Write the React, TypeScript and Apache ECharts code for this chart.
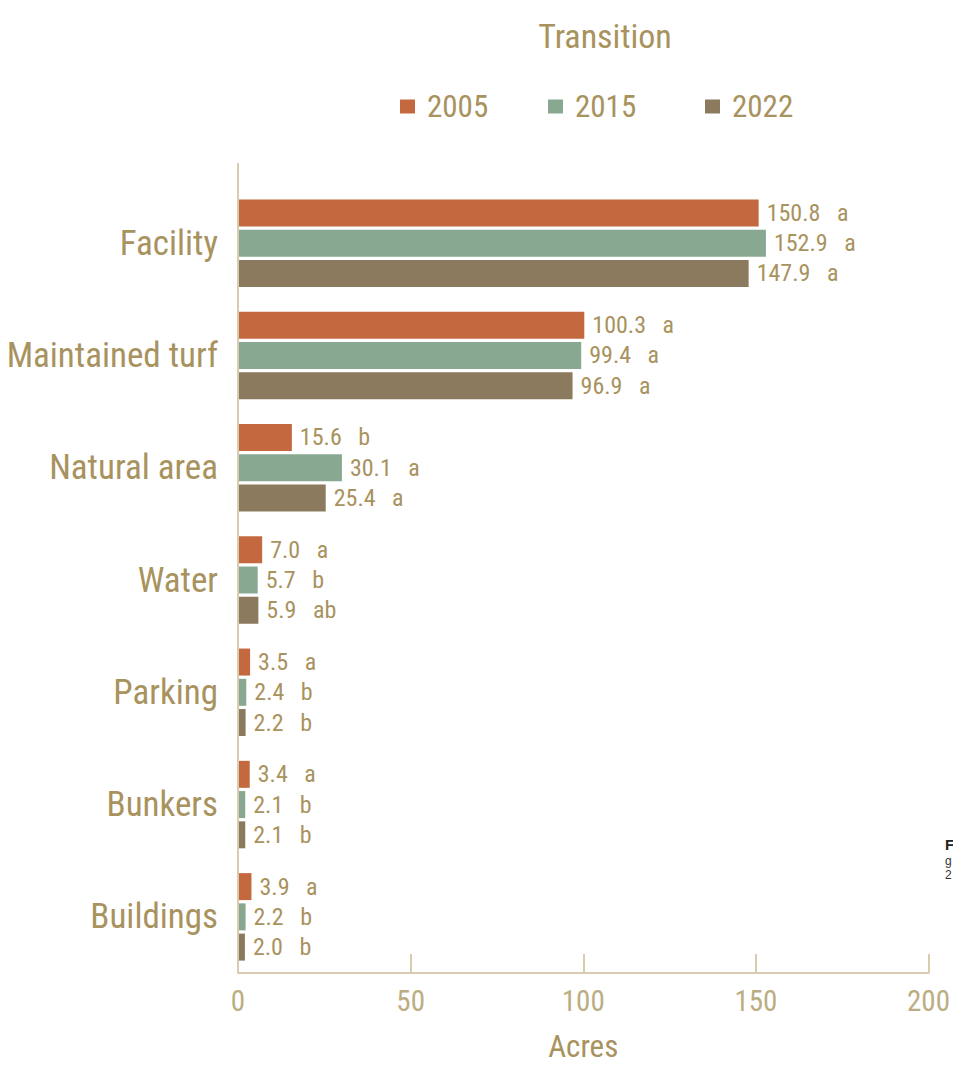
import React, { useEffect, useRef } from "react";
import * as echarts from "echarts";

const categories = ["Facility", "Maintained turf", "Natural area", "Water", "Parking", "Bunkers", "Buildings"];
const years = ["2005", "2015", "2022"];
const values2005 = [150.8, 100.3, 15.6, 7.0, 3.5, 3.4, 3.9];
const values2015 = [152.9, 99.4, 30.1, 5.7, 2.4, 2.1, 2.2];
const values2022 = [147.9, 96.9, 25.4, 5.9, 2.2, 2.1, 2.0];
const letters2005 = ["a", "a", "b", "a", "a", "a", "a"];
const letters2015 = ["a", "a", "a", "b", "b", "b", "b"];
const letters2022 = ["a", "a", "a", "ab", "b", "b", "b"];
const xTicks = [0, 50, 100, 150, 200];

const colors = ["#C4683F", "#89A891", "#8B7A5D"];
const textColor = "#A8925E";
const lightText = "#BBAD82";
const lineColor = "#D8CBAE";
const font = "'Roboto Condensed', 'Liberation Sans', sans-serif";
const legendLefts = [395, 543, 700];

export default function App() {
  const ref = useRef<HTMLDivElement>(null);
  useEffect(() => {
    const chart = echarts.init(ref.current!, null, { renderer: "svg" });
    const vals = [values2005, values2015, values2022];
    const lets = [letters2005, letters2015, letters2022];
    chart.setOption({
      animation: false,
      backgroundColor: "#ffffff",
      color: colors,
      title: {
        text: "Transition",
        left: 600,
        top: 14,
        textAlign: "center",
        textStyle: { color: textColor, fontFamily: font, fontSize: 34, fontWeight: "normal" },
      },
      legend: years.map((y, i) => ({
        data: [y],
        left: legendLefts[i],
        top: 86,
        itemWidth: 15,
        itemHeight: 14,
        icon: "rect",
        textStyle: { color: textColor, fontFamily: font, fontSize: 31, padding: [0, 0, 0, 7] },
      })),
      grid: { left: 238, right: 24, top: 187, bottom: 98 },
      xAxis: {
        type: "value",
        min: 0,
        max: 200,
        interval: 50,
        name: "Acres",
        nameLocation: "middle",
        nameGap: 58,
        nameTextStyle: { color: textColor, fontFamily: font, fontSize: 31 },
        axisLine: { show: true, lineStyle: { color: lineColor, width: 2 } },
        axisTick: { show: true, inside: true, length: 19, lineStyle: { color: lineColor, width: 2 } },
        axisLabel: {
          color: lightText,
          fontFamily: font,
          fontSize: 29,
          margin: 13,
          formatter: (v: number) => (xTicks.includes(v) ? String(v) : ""),
        },
        splitLine: { show: false },
      },
      yAxis: {
        type: "category",
        data: categories,
        inverse: true,
        axisLine: { show: false },
        axisTick: { show: false },
        axisLabel: { color: textColor, fontFamily: font, fontSize: 35, margin: 20 },
      },
      graphic: [
        { type: "line", shape: { x1: 238, y1: 163, x2: 238, y2: 973 }, style: { stroke: lineColor, lineWidth: 2 }, z: 10 },
        { type: "text", x: 945, y: 837, style: { text: "F", fill: "#222", fontSize: 15, fontWeight: "bold", fontFamily: "'Liberation Sans', sans-serif" } },
        { type: "text", x: 945, y: 855, style: { text: "g", fill: "#333", fontSize: 12, fontFamily: "'Liberation Sans', sans-serif" } },
        { type: "text", x: 945, y: 869, style: { text: "2", fill: "#333", fontSize: 12, fontFamily: "'Liberation Sans', sans-serif" } },
      ],
      series: years.map((y, i) => ({
        name: y,
        type: "bar",
        data: vals[i],
        barWidth: 27,
        barGap: "12%",
        itemStyle: { color: colors[i] },
        label: {
          show: true,
          position: "right",
          distance: 8,
          color: textColor,
          fontFamily: font,
          fontSize: 24,
          formatter: (p: any) => `${p.value.toFixed(1)}   ${lets[i][p.dataIndex]}`,
        },
      })),
    });
    return () => chart.dispose();
  }, []);
  return <div ref={ref} style={{ position: "absolute", left: 0, top: 0, width: 953, height: 1071 }} />;
}
